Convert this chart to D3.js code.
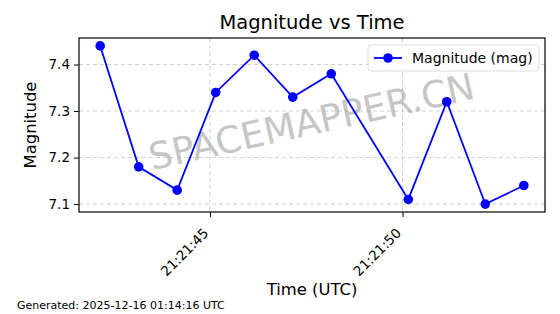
<!DOCTYPE html>
<html lang="en">
<head>
<meta charset="UTF-8">
<title>Magnitude vs Time</title>
<script src="https://cdn.jsdelivr.net/npm/d3@7"></script>
<style>
    body { margin: 0; background: #fff; }
    text { font-family: "DejaVu Sans", sans-serif; fill: #000; }
    .grid line { stroke: #b0b0b0; stroke-dasharray: 4 3; stroke-width: 0.8; opacity: 0.7; }
</style>
</head>
<body>
<div id="chart"></div>
<script>
    // times of each reading (UTC) and magnitudes
    const times = ["21:21:42.15", "21:21:43.15", "21:21:44.15", "21:21:45.15", "21:21:46.15",
                   "21:21:47.15", "21:21:48.15", "21:21:50.15", "21:21:51.15", "21:21:52.15", "21:21:53.15"];
    const mags = [7.44, 7.18, 7.13, 7.34, 7.42, 7.33, 7.38, 7.11, 7.32, 7.10, 7.14];
    const yTicks = [7.1, 7.2, 7.3, 7.4];

    const width = 560, height = 314;
    const margin = {left: 79, right: 15, top: 38, bottom: 102};

    const parse = s => {
        const [h, m, sec] = s.split(":");
        return new Date(Date.UTC(2025, 11, 15, +h, +m, 0) + (+sec) * 1000);
    };
    const data = times.map((t, i) => ({t: parse(t), v: mags[i]}));

    const svg = d3.select("#chart").append("svg")
        .attr("width", width).attr("height", height);

    // matplotlib-like 5% padding
    const [t0, t1] = d3.extent(data, d => +d.t);
    const tp = (t1 - t0) * 0.05;
    const x = d3.scaleUtc()
        .domain([new Date(t0 - tp), new Date(t1 + tp)])
        .range([margin.left, width - margin.right]);
    const [v0, v1] = d3.extent(mags);
    const vp = (v1 - v0) * 0.05;
    const y = d3.scaleLinear()
        .domain([v0 - vp, v1 + vp])
        .range([height - margin.bottom, margin.top]);

    const xTicks = d3.utcSecond.every(5).range(x.domain()[0], x.domain()[1]);
    const fmt = d3.utcFormat("%H:%M:%S");

    // grid
    const grid = svg.append("g").attr("class", "grid");
    grid.selectAll(".gx").data(xTicks).enter().append("line")
        .attr("x1", d => x(d)).attr("x2", d => x(d))
        .attr("y1", margin.top).attr("y2", height - margin.bottom);
    grid.selectAll(".gy").data(yTicks).enter().append("line")
        .attr("x1", margin.left).attr("x2", width - margin.right)
        .attr("y1", d => y(d)).attr("y2", d => y(d));

    // watermark
    svg.append("text")
        .attr("transform", `translate(312,124) rotate(-12.5)`)
        .attr("text-anchor", "middle")
        .attr("dominant-baseline", "middle")
        .style("font-size", "37px")
        .style("fill", "#999")
        .style("opacity", 0.55)
        .text("SPACEMAPPER.CN");

    // axes
    const xAxis = svg.append("g")
        .attr("transform", `translate(0,${height - margin.bottom})`)
        .call(d3.axisBottom(x).tickValues(xTicks).tickFormat(fmt).tickSize(5));
    xAxis.selectAll("text")
        .style("font-size", "13.5px")
        .attr("text-anchor", "end")
        .attr("x", 0).attr("y", 0).attr("dy", 0)
        .attr("transform", "translate(-1,22) rotate(-45)");

    const yAxis = svg.append("g")
        .attr("transform", `translate(${margin.left},0)`)
        .call(d3.axisLeft(y).tickValues(yTicks).tickFormat(d3.format(".1f")).tickSize(5).tickPadding(4));
    yAxis.selectAll("text").style("font-size", "13.5px");
    svg.selectAll(".domain").remove();

    // frame
    svg.append("rect")
        .attr("x", margin.left).attr("y", margin.top)
        .attr("width", width - margin.left - margin.right)
        .attr("height", height - margin.top - margin.bottom)
        .attr("fill", "none").attr("stroke", "#000").attr("stroke-width", 1.2);

    // line + markers
    const line = d3.line().x(d => x(d.t)).y(d => y(d.v));
    svg.append("path").datum(data)
        .attr("d", line)
        .attr("fill", "none").attr("stroke", "#0000ff").attr("stroke-width", 1.8);
    svg.selectAll(".pt").data(data).enter().append("circle")
        .attr("cx", d => x(d.t)).attr("cy", d => y(d.v))
        .attr("r", 4.8).attr("fill", "#0000ff");

    // titles
    svg.append("text")
        .attr("x", (margin.left + width - margin.right) / 2).attr("y", 29)
        .attr("text-anchor", "middle").style("font-size", "19.5px")
        .text("Magnitude vs Time");
    svg.append("text")
        .attr("x", (margin.left + width - margin.right) / 2).attr("y", 295)
        .attr("text-anchor", "middle").style("font-size", "16.4px")
        .text("Time (UTC)");
    svg.append("text")
        .attr("transform", `translate(36,${(margin.top + height - margin.bottom) / 2}) rotate(-90)`)
        .attr("text-anchor", "middle").style("font-size", "16.4px")
        .text("Magnitude");

    // legend
    const lg = svg.append("g").attr("transform", "translate(368,45)");
    lg.append("rect").attr("width", 171).attr("height", 26).attr("rx", 3)
        .attr("fill", "#fff").attr("fill-opacity", 0.8)
        .attr("stroke", "#ddd");
    lg.append("line").attr("x1", 6).attr("x2", 34).attr("y1", 13).attr("y2", 13)
        .attr("stroke", "#0000ff").attr("stroke-width", 1.8);
    lg.append("circle").attr("cx", 20).attr("cy", 13).attr("r", 4.8).attr("fill", "#0000ff");
    lg.append("text").attr("x", 44).attr("y", 18).style("font-size", "14px")
        .text("Magnitude (mag)");

    // footer
    svg.append("text")
        .attr("x", 17).attr("y", 309).style("font-size", "11px")
        .text("Generated: 2025-12-16 01:14:16 UTC");
</script>
</body>
</html>
